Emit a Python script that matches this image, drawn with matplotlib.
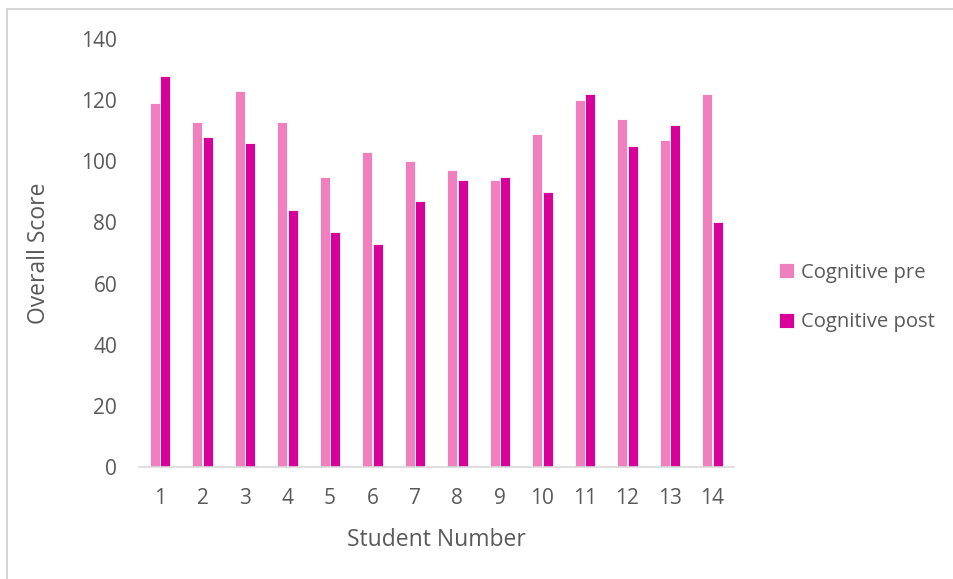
import matplotlib
matplotlib.use("Agg")
import matplotlib.pyplot as plt
from matplotlib.patches import Rectangle
import numpy as np

students = list(range(1, 15))
cognitive_pre = [119, 113, 123, 113, 95, 103, 100, 97, 94, 109, 120, 114, 107, 122]
cognitive_post = [128, 108, 106, 84, 77, 73, 87, 94, 95, 90, 122, 105, 112, 80]
y_ticks = [0, 20, 40, 60, 80, 100, 120, 140]

pre_colour = "#F07FBE"
post_colour = "#D9009A"
text_colour = "#595959"

plt.rcParams['font.family'] = ['Open Sans', 'DejaVu Sans']

fig = plt.figure(figsize=(9.54, 5.79), dpi=100)
ax = fig.add_axes([0.1454, 0.1934, 0.6236, 0.7392])

# outer chart frame
fig.patches.append(Rectangle((0.0075, -0.05), 1.1, 1.034, transform=fig.transFigure,
                             fill=False, edgecolor="#D0D0D0", linewidth=1.2))

x = np.arange(len(students))
w = 0.235
ax.bar(x - 0.125, cognitive_pre, width=w, color=pre_colour, edgecolor="white",
       linewidth=0.6, label="Cognitive pre")
ax.bar(x + 0.125, cognitive_post, width=w, color=post_colour, edgecolor="white",
       linewidth=0.6, label="Cognitive post")

ax.set_xlim(-0.5, len(students) - 0.5)
ax.set_ylim(0, 140)
ax.set_xticks(x)
ax.set_xticklabels([str(s) for s in students])
ax.set_yticks(y_ticks)

for side in ["top", "right", "left"]:
    ax.spines[side].set_visible(False)
ax.spines["bottom"].set_color("#D9D9D9")
ax.spines["bottom"].set_linewidth(1.2)
ax.tick_params(axis="both", length=0, labelsize=15, colors=text_colour)
ax.tick_params(axis="x", pad=15)
ax.tick_params(axis="y", pad=15.5)

ax.set_xlabel("Student Number", fontsize=16.5, color=text_colour, labelpad=14)
ax.set_ylabel("Overall Score", fontsize=16.5, color=text_colour, labelpad=22)

leg = ax.legend(loc="center left", bbox_to_anchor=(1.045, 0.396), frameon=False,
                fontsize=14.6, handlelength=0.75, handleheight=0.75,
                handletextpad=0.35, labelspacing=1.45)
for t in leg.get_texts():
    t.set_color(text_colour)

fig.savefig("out.png", dpi=100)
